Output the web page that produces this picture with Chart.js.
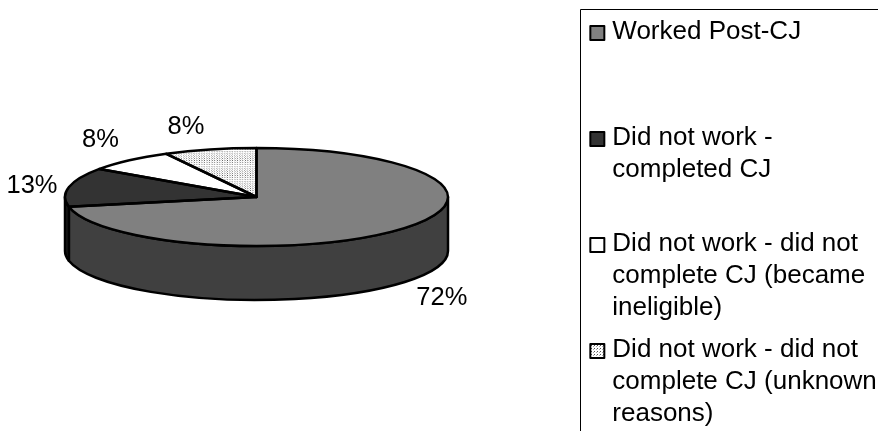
<!DOCTYPE html>
<html>
<head>
<meta charset="utf-8">
<script src="https://cdn.jsdelivr.net/npm/chart.js@4"></script>
<style>
    html, body { margin: 0; padding: 0; background: #fff; overflow: hidden; }
    #wrap { width: 878px; height: 431px; overflow: hidden; }
</style>
</head>
<body>
<div id="wrap"><canvas id="pie" width="878" height="460"></canvas></div>
<script>
// trailing empty lines keep every legend entry the same height
const categories = [
    ['Worked Post-CJ', '', ''],
    ['Did not work -', 'completed CJ', ''],
    ['Did not work - did not', 'complete CJ (became', 'ineligible)'],
    ['Did not work - did not', 'complete CJ (unknown', 'reasons)']
];
const shares = [71.8, 12.9, 7.5, 7.8];
const sliceColors = ['#808080', '#333333', '#ffffff', 'dots'];
const wallColors = ['#404040', '#1a1a1a', '#ffffff', '#ffffff'];

// where the tilted disc goes on the page
const disc = { x: 256.5, y: 197, rx: 191.5, ry: 49, depth: 54 };
const labelOffsets = [[37, 16], [-37, -1], [-29, -20], [-24, -22]];
const FONT = '25.5px "Liberation Sans", Arial, sans-serif';

function dotPattern() {
    const tile = document.createElement('canvas');
    tile.width = tile.height = 3;
    const t = tile.getContext('2d');
    t.fillStyle = '#fff';
    t.fillRect(0, 0, 3, 3);
    t.fillStyle = '#555';
    t.fillRect(0, 0, 1, 1);
    t.fillStyle = '#aaa';
    t.fillRect(2, 1, 1, 1);
    return t.createPattern(tile, 'repeat');
}

const fills = sliceColors.map(c => c === 'dots' ? dotPattern() : c);

const tiltedPie = {
    id: 'tiltedPie',
    beforeDraw(chart) {
        // the legend clips to its box, which is sized from the line with the most characters
        chart.legend.right = chart.width;
        chart.legend.width = chart.width - chart.legend.left;
    },
    beforeDatasetsDraw(chart) {
        const ctx = chart.ctx;
        const arcs = chart.getDatasetMeta(0).data;

        // side wall first, only the half of the rim that faces us
        arcs.forEach((arc, i) => {
            const a = Math.max(arc.startAngle, 0);
            const b = Math.min(arc.endAngle, Math.PI);
            if (a >= b) return;
            ctx.save();
            ctx.beginPath();
            ctx.ellipse(disc.x, disc.y, disc.rx, disc.ry, 0, a, b);
            ctx.ellipse(disc.x, disc.y + disc.depth, disc.rx, disc.ry, 0, b, a, true);
            ctx.closePath();
            ctx.fillStyle = wallColors[i];
            ctx.fill();
            ctx.strokeStyle = '#000';
            ctx.lineWidth = 2.5;
            ctx.lineJoin = 'round';
            ctx.stroke();
            ctx.restore();
        });

        const r = arcs[0].outerRadius;
        ctx.save();
        ctx.translate(disc.x, disc.y);
        ctx.scale(disc.rx / r, disc.ry / r);
        ctx.translate(-arcs[0].x, -arcs[0].y);
    },
    afterDatasetsDraw(chart) {
        const ctx = chart.ctx;
        ctx.restore();
        const arcs = chart.getDatasetMeta(0).data;

        // outlines are stroked unscaled so the line width stays even
        arcs.forEach((arc) => {
            ctx.beginPath();
            ctx.moveTo(disc.x, disc.y);
            ctx.ellipse(disc.x, disc.y, disc.rx, disc.ry, 0, arc.startAngle, arc.endAngle);
            ctx.closePath();
            ctx.strokeStyle = '#000';
            ctx.lineWidth = 2.5;
            ctx.lineJoin = 'round';
            ctx.stroke();
        });

        ctx.font = FONT;
        ctx.fillStyle = '#000';
        ctx.textAlign = 'center';
        ctx.textBaseline = 'middle';
        arcs.forEach((arc, i) => {
            const mid = (arc.startAngle + arc.endAngle) / 2;
            let y = disc.y + disc.ry * Math.sin(mid);
            if (Math.sin(mid) > 0) y += disc.depth;
            const x = disc.x + disc.rx * Math.cos(mid);
            ctx.fillText(Math.round(shares[i]) + '%', x + labelOffsets[i][0], y + labelOffsets[i][1]);
        });
    },
    afterDraw(chart) {
        const ctx = chart.ctx;
        const boxes = chart.legend.legendHitBoxes;

        // frame: the right and bottom sides fall off the page
        ctx.strokeStyle = '#000';
        ctx.lineWidth = 1;
        ctx.beginPath();
        ctx.moveTo(580.5, chart.height);
        ctx.lineTo(580.5, 9.5);
        ctx.lineTo(chart.width, 9.5);
        ctx.stroke();

        // Chart.js ties the text gap to boxWidth, the swatch here is bigger than that gap allows
        ctx.lineWidth = 2;
        boxes.forEach((box, i) => {
            ctx.fillStyle = fills[i];
            ctx.fillRect(box.left + 1, box.top + 7, 14, 14);
            ctx.strokeRect(box.left + 1, box.top + 7, 14, 14);
        });
    }
};

new Chart(document.getElementById('pie'), {
    type: 'pie',
    data: {
        labels: categories.map(c => c.join(' ').trim()),
        datasets: [{
            data: shares,
            backgroundColor: fills,
            borderWidth: 0
        }]
    },
    options: {
        responsive: false,
        animation: false,
        rotation: 0,
        layout: { padding: { top: 9, right: 10 } },
        plugins: {
            tooltip: { enabled: false },
            legend: {
                position: 'right',
                align: 'start',
                labels: {
                    boxWidth: 10,
                    padding: 10,
                    color: '#000',
                    font: { family: '"Liberation Sans", Arial, sans-serif', size: 26, lineHeight: 32 / 26 },
                    generateLabels: () => categories.map((text, i) => ({
                        text: text,
                        fillStyle: 'transparent',
                        strokeStyle: 'transparent',
                        lineWidth: 0,
                        index: i
                    }))
                }
            }
        }
    },
    plugins: [tiltedPie]
});
</script>
</body>
</html>
